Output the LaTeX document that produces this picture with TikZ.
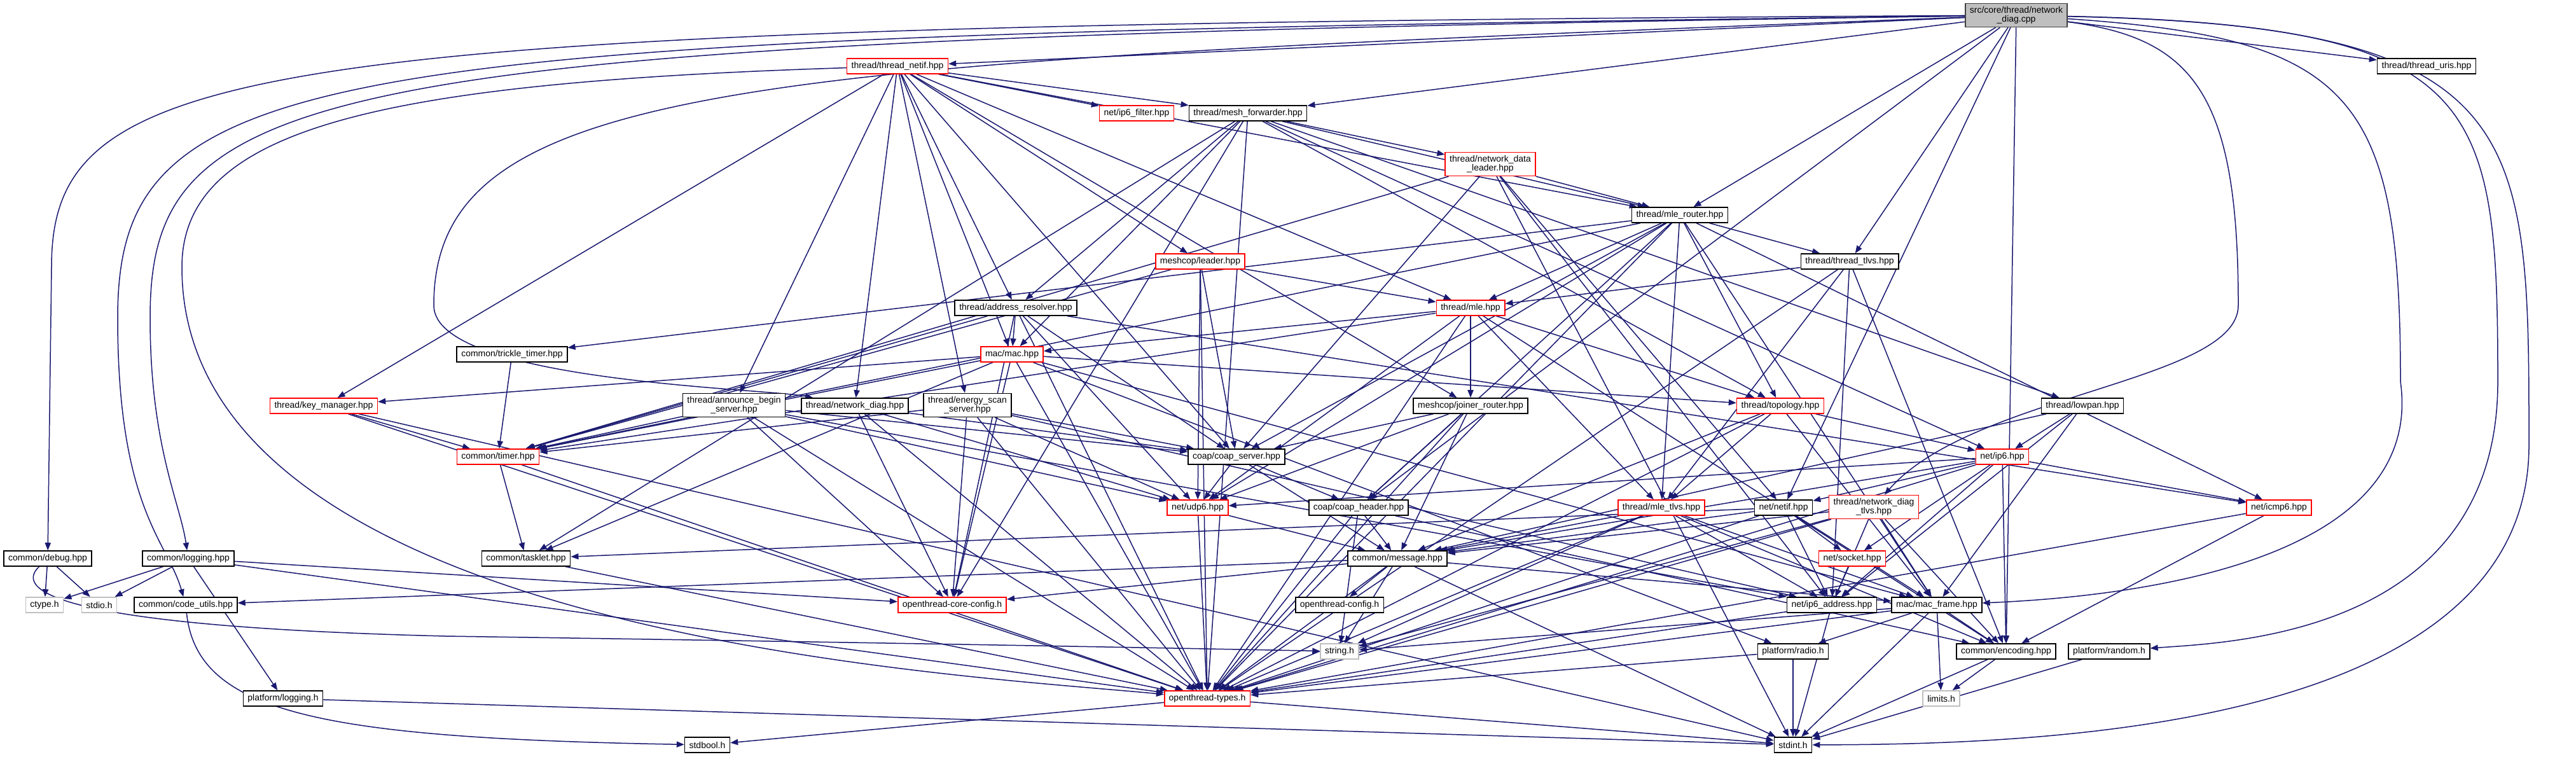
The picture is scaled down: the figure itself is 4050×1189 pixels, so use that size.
\documentclass[tikz,border=0pt]{standalone}
\usepackage{fontspec}
\setmainfont{Liberation Sans}
\usepackage{tikz}
\usetikzlibrary{arrows.meta, backgrounds}
\definecolor{depblue}{HTML}{191970}
\definecolor{sysgray}{HTML}{BFBFBF}
\definecolor{rootline}{HTML}{404040}

\tikzset{
  hdr/.style={draw=black, line width=0.8pt, fill=white, inner xsep=3.5pt, inner ysep=0pt,
    minimum height=12pt, align=center},
  hdrred/.style={hdr, draw=red},
  hdrsys/.style={hdr, draw=sysgray},
  hdrroot/.style={hdr, fill=sysgray, draw=rootline},
  twoline/.style={minimum height=18.5pt},
  dep/.style={depblue, line width=0.75pt, -{Triangle[length=6pt,width=4.6pt]}},
}

\begin{document}
\begin{tikzpicture}[x=0.5pt,y=-0.5pt,font=\fontsize{7}{7.2}\selectfont]
      \useasboundingbox (0,0) rectangle (4050,1189);
      % files
      \node[hdrroot,twoline] (cpp) at (3170,24) {src/core/thread/network\\\_diag.cpp};
      \node[hdrred] (netif) at (1411,104) {thread/thread\_netif.hpp};
      \node[hdr] (uris) at (3815,104) {thread/thread\_uris.hpp};
      \node[hdrred] (ip6filter) at (1787,178) {net/ip6\_filter.hpp};
      \node[hdr] (meshfwd) at (1962,178) {thread/mesh\_forwarder.hpp};
      \node[hdrred,twoline] (ndleader) at (2343,258) {thread/network\_data\\\_leader.hpp};
      \node[hdr] (mlerouter) at (2641,338) {thread/mle\_router.hpp};
      \node[hdrred] (leader) at (1887,411) {meshcop/leader.hpp};
      \node[hdr] (tlvs) at (2908,411) {thread/thread\_tlvs.hpp};
      \node[hdr] (addrres) at (1597,484) {thread/address\_resolver.hpp};
      \node[hdrred] (mle) at (2312,484) {thread/mle.hpp};
      \node[hdr] (trickle) at (805,557) {common/trickle\_timer.hpp};
      \node[hdrred] (mac) at (1591,557) {mac/mac.hpp};
      \node[hdrred] (keymgr) at (509,638) {thread/key\_manager.hpp};
      \node[hdr,twoline] (announce) at (1154,637) {thread/announce\_begin\\\_server.hpp};
      \node[hdr] (ndiag) at (1344,638) {thread/network\_diag.hpp};
      \node[hdr,twoline] (energy) at (1521,637) {thread/energy\_scan\\\_server.hpp};
      \node[hdr] (joiner) at (2312,638) {meshcop/joiner\_router.hpp};
      \node[hdrred] (topology) at (2799,638) {thread/topology.hpp};
      \node[hdr] (lowpan) at (3274,638) {thread/lowpan.hpp};
      \node[hdrred] (timer) at (783,718) {common/timer.hpp};
      \node[hdr] (coapsrv) at (1944,718) {coap/coap\_server.hpp};
      \node[hdrred] (ip6) at (3148,718) {net/ip6.hpp};
      \node[hdrred] (udp6) at (1883,798) {net/udp6.hpp};
      \node[hdr] (coaphdr) at (2136,798) {coap/coap\_header.hpp};
      \node[hdrred] (mletlvs) at (2612,798) {thread/mle\_tlvs.hpp};
      \node[hdr] (netifn) at (2804,798) {net/netif.hpp};
      \node[hdrred,twoline] (ndtlvs) at (2946,797) {thread/network\_diag\\\_tlvs.hpp};
      \node[hdrred] (icmp6) at (3583,798) {net/icmp6.hpp};
      \node[hdr] (debug) at (75,878) {common/debug.hpp};
      \node[hdr] (logging) at (296,878) {common/logging.hpp};
      \node[hdr] (tasklet) at (827,878) {common/tasklet.hpp};
      \node[hdr] (message) at (2197,878) {common/message.hpp};
      \node[hdrred] (socket) at (2912,878) {net/socket.hpp};
      \node[hdrsys] (ctype) at (70,951) {ctype.h};
      \node[hdrsys] (stdio) at (156,951) {stdio.h};
      \node[hdr] (codeutils) at (292,951) {common/code\_utils.hpp};
      \node[hdrred] (coreconfig) at (1497,951) {openthread-core-config.h};
      \node[hdr] (otconfig) at (2106,951) {openthread-config.h};
      \node[hdr] (ip6addr) at (2880,951) {net/ip6\_address.hpp};
      \node[hdr] (macframe) at (3045,951) {mac/mac\_frame.hpp};
      \node[hdrsys] (stringh) at (2106,1024) {string.h};
      \node[hdr] (radio) at (2819,1024) {platform/radio.h};
      \node[hdr] (encoding) at (3154,1024) {common/encoding.hpp};
      \node[hdr] (random) at (3316,1024) {platform/random.h};
      \node[hdr] (logplat) at (445,1098) {platform/logging.h};
      \node[hdrred] (types) at (1898,1098) {openthread-types.h};
      \node[hdrsys] (limits) at (3052,1098) {limits.h};
      \node[hdr] (stdbool) at (1112,1171) {stdbool.h};
      \node[hdr] (stdint) at (2819,1171) {stdint.h};

      \begin{scope}[on background layer]
      \fill[white] (0,0) rectangle (4050,1189);
      % long routed includes
      \draw[dep] (cpp) .. controls (400,40) and (81,90) .. (81,420) -- (debug);
      \draw[dep] (cpp) .. controls (500,58) and (185,90) .. (185,500) .. controls (185,800) and (263,850) .. (codeutils);
      \draw[dep] (cpp) .. controls (500,63) and (236,120) .. (236,500) .. controls (236,700) and (283,790) .. (logging);
      \draw[dep] (cpp) .. controls (1200,100) and (682,120) .. (682,480) .. controls (682,600) and (1200,610) .. (ndiag);
      \draw[dep] (netif) .. controls (600,130) and (286,200) .. (286,420) .. controls (286,1000) and (1500,1060) .. (types);
      \draw[dep] (cpp) .. controls (3976,40) and (3976,200) .. (3976,700) .. controls (3976,1150) and (3200,1170) .. (stdint);
      \draw[dep] (cpp) .. controls (3900,40) and (3927,150) .. (3927,600) .. controls (3927,1000) and (3500,1010) .. (random);
      \draw[dep] (cpp) .. controls (3700,60) and (3774,150) .. (3774,600) .. controls (3816,900) and (3300,940) .. (macframe);
      \draw[dep] (cpp) .. controls (3450,60) and (3519,150) .. (3519,480) .. controls (3519,600) and (3100,620) .. (ndtlvs);
      \draw[dep] (debug) .. controls (20,930) and (100,985) .. (700,1000) .. controls (1500,1012) and (1900,1020) .. (stringh);
      \draw[dep] (codeutils) .. controls (310,1120) and (500,1160) .. (stdbool);
      % direct includes
      \foreach \src/\dst in {cpp/netif,cpp/meshfwd,cpp/mlerouter,cpp/tlvs,cpp/uris,cpp/coaphdr,cpp/netifn,cpp/encoding,
          netif/ip6filter,netif/meshfwd,netif/mlerouter,netif/leader,netif/addrres,netif/mle,netif/mac,netif/keymgr,
          netif/announce,netif/ndiag,netif/energy,netif/joiner,netif/coapsrv,
          meshfwd/ndleader,meshfwd/addrres,meshfwd/mac,meshfwd/lowpan,meshfwd/ip6,meshfwd/topology,meshfwd/tasklet,
          meshfwd/coreconfig,meshfwd/types,meshfwd/mlerouter,
          ndleader/mlerouter,ndleader/coapsrv,ndleader/timer,ndleader/ip6addr,ndleader/stdint,ndleader/netifn,
          mlerouter/trickle,mlerouter/timer,mlerouter/mle,mlerouter/tlvs,mlerouter/topology,mlerouter/mletlvs,
          mlerouter/coapsrv,mlerouter/coaphdr,mlerouter/udp6,mlerouter/icmp6,mlerouter/macframe,mlerouter/types,
          leader/mle,leader/coapsrv,leader/udp6,leader/timer,leader/types,
          tlvs/mle,tlvs/ip6addr,tlvs/encoding,tlvs/mletlvs,tlvs/types,
          addrres/mac,addrres/timer,addrres/coapsrv,addrres/udp6,addrres/icmp6,addrres/coreconfig,addrres/types,
          mle/mac,mle/joiner,mle/topology,mle/mletlvs,mle/udp6,mle/timer,mle/encoding,mle/types,
          trickle/timer,
          mac/keymgr,mac/timer,mac/tasklet,mac/topology,mac/macframe,mac/radio,mac/coreconfig,mac/types,
          keymgr/timer,keymgr/types,keymgr/stdint,
          announce/timer,announce/coapsrv,announce/udp6,announce/ip6addr,announce/coreconfig,announce/types,
          ndiag/coapsrv,ndiag/udp6,ndiag/coreconfig,ndiag/types,
          energy/timer,energy/coapsrv,energy/udp6,energy/ip6addr,energy/coreconfig,energy/types,
          joiner/coapsrv,joiner/udp6,joiner/coaphdr,joiner/message,joiner/types,
          topology/ip6,topology/mletlvs,topology/macframe,topology/message,topology/types,
          lowpan/ip6,lowpan/message,lowpan/macframe,lowpan/ip6addr,
          timer/tasklet,timer/types,
          coapsrv/udp6,coapsrv/coaphdr,coapsrv/message,
          ip6/udp6,ip6/icmp6,ip6/netifn,ip6/socket,ip6/ip6addr,ip6/message,ip6/encoding,ip6/types,
          udp6/message,udp6/types,
          coaphdr/message,coaphdr/encoding,coaphdr/stringh,coaphdr/types,
          mletlvs/message,mletlvs/ip6addr,mletlvs/macframe,mletlvs/encoding,mletlvs/stringh,mletlvs/types,
          netifn/message,netifn/tasklet,netifn/socket,netifn/ip6addr,netifn/macframe,netifn/types,
          ndtlvs/message,ndtlvs/ip6addr,ndtlvs/macframe,ndtlvs/encoding,ndtlvs/stringh,ndtlvs/types,
          icmp6/encoding,icmp6/types,
          debug/ctype,debug/stdio,
          logging/ctype,logging/stdio,logging/logplat,logging/coreconfig,logging/types,
          tasklet/types,
          message/codeutils,message/coreconfig,message/otconfig,message/macframe,message/stringh,message/types,message/stdint,
          socket/ip6addr,
          ip6addr/stdint,ip6addr/types,
          macframe/radio,macframe/encoding,macframe/limits,macframe/stringh,macframe/stdint,macframe/types,
          radio/stdint,radio/types,
          encoding/limits,encoding/stdint,
          random/stdint,
          logplat/stdint,
          types/stdbool,types/stdint}
        \draw[dep] (\src) -- (\dst);
      \end{scope}
    \end{tikzpicture}
\end{document}
